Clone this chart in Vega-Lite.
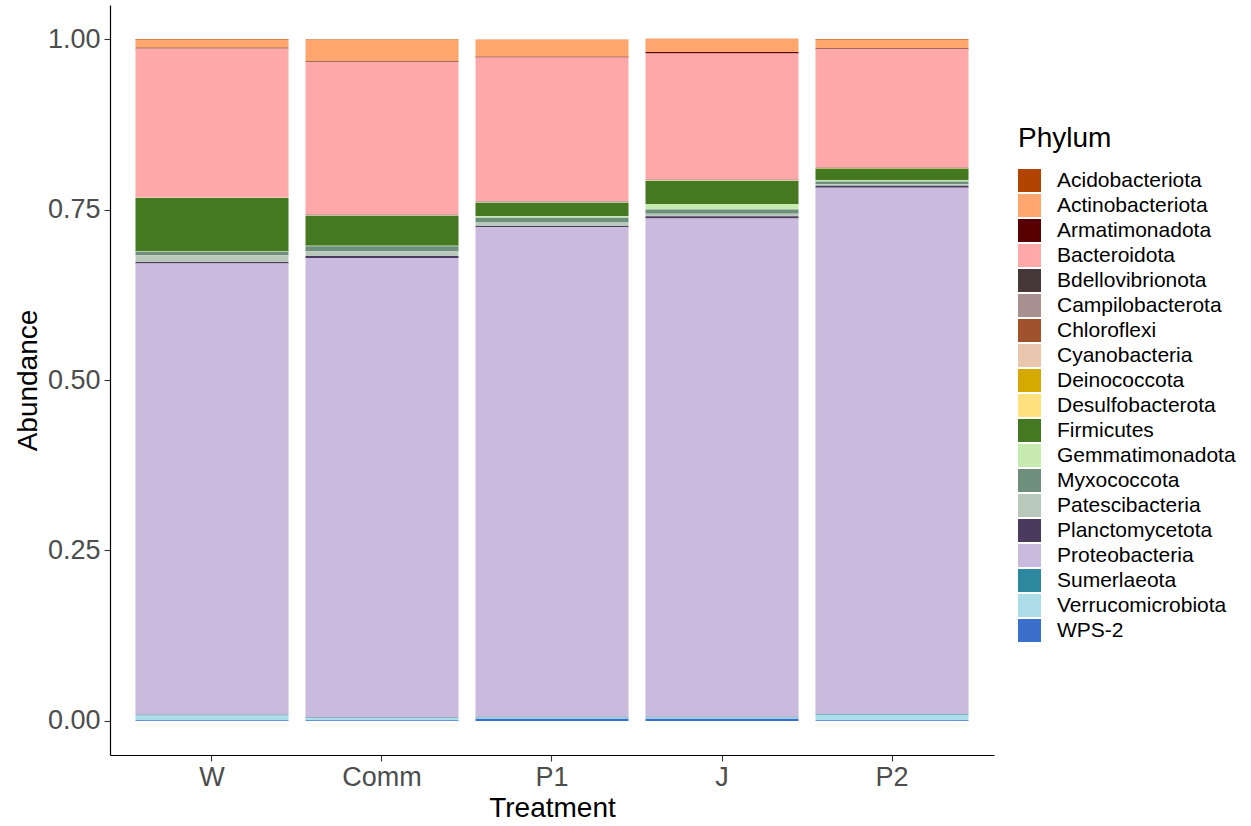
{
  "$schema": "https://vega.github.io/schema/vega-lite/v6.json",
  "autosize": "none",
  "width": 884,
  "height": 750,
  "padding": {"left": 110, "top": 5, "right": 257, "bottom": 71},
  "background": "white",
  "config": {
    "font": "Liberation Sans",
    "view": {"stroke": null},
    "axis": {"grid": false, "domainColor": "black", "domainWidth": 1.2, "tickColor": "#333333", "tickSize": 6, "tickWidth": 1.1, "labelColor": "#4D4D4D", "labelFontSize": 27, "titleFontSize": 28, "titleFontWeight": "normal", "titleColor": "black"}
  },
  "data": {"values": [
    {"Treatment":"W","Phylum":"Acidobacteriota","Abundance":0.001},
    {"Treatment":"W","Phylum":"Actinobacteriota","Abundance":0.012},
    {"Treatment":"W","Phylum":"Armatimonadota","Abundance":0.001},
    {"Treatment":"W","Phylum":"Bacteroidota","Abundance":0.218},
    {"Treatment":"W","Phylum":"Bdellovibrionota","Abundance":0.0002},
    {"Treatment":"W","Phylum":"Campilobacterota","Abundance":0.0002},
    {"Treatment":"W","Phylum":"Chloroflexi","Abundance":0.0002},
    {"Treatment":"W","Phylum":"Cyanobacteria","Abundance":0.0002},
    {"Treatment":"W","Phylum":"Deinococcota","Abundance":0.0002},
    {"Treatment":"W","Phylum":"Desulfobacterota","Abundance":0.0002},
    {"Treatment":"W","Phylum":"Firmicutes","Abundance":0.078},
    {"Treatment":"W","Phylum":"Gemmatimonadota","Abundance":0.001},
    {"Treatment":"W","Phylum":"Myxococcota","Abundance":0.005},
    {"Treatment":"W","Phylum":"Patescibacteria","Abundance":0.010},
    {"Treatment":"W","Phylum":"Planctomycetota","Abundance":0.002},
    {"Treatment":"W","Phylum":"Proteobacteria","Abundance":0.662},
    {"Treatment":"W","Phylum":"Sumerlaeota","Abundance":0.001},
    {"Treatment":"W","Phylum":"Verrucomicrobiota","Abundance":0.007},
    {"Treatment":"W","Phylum":"WPS-2","Abundance":0.001},

    {"Treatment":"Comm","Phylum":"Acidobacteriota","Abundance":0.0005},
    {"Treatment":"Comm","Phylum":"Actinobacteriota","Abundance":0.032},
    {"Treatment":"Comm","Phylum":"Armatimonadota","Abundance":0.001},
    {"Treatment":"Comm","Phylum":"Bacteroidota","Abundance":0.224},
    {"Treatment":"Comm","Phylum":"Bdellovibrionota","Abundance":0.0002},
    {"Treatment":"Comm","Phylum":"Campilobacterota","Abundance":0.0002},
    {"Treatment":"Comm","Phylum":"Chloroflexi","Abundance":0.0002},
    {"Treatment":"Comm","Phylum":"Cyanobacteria","Abundance":0.0002},
    {"Treatment":"Comm","Phylum":"Deinococcota","Abundance":0.0002},
    {"Treatment":"Comm","Phylum":"Desulfobacterota","Abundance":0.0002},
    {"Treatment":"Comm","Phylum":"Firmicutes","Abundance":0.044},
    {"Treatment":"Comm","Phylum":"Gemmatimonadota","Abundance":0.001},
    {"Treatment":"Comm","Phylum":"Myxococcota","Abundance":0.007},
    {"Treatment":"Comm","Phylum":"Patescibacteria","Abundance":0.007},
    {"Treatment":"Comm","Phylum":"Planctomycetota","Abundance":0.003},
    {"Treatment":"Comm","Phylum":"Proteobacteria","Abundance":0.674},
    {"Treatment":"Comm","Phylum":"Sumerlaeota","Abundance":0.001},
    {"Treatment":"Comm","Phylum":"Verrucomicrobiota","Abundance":0.003},
    {"Treatment":"Comm","Phylum":"WPS-2","Abundance":0.001},

    {"Treatment":"P1","Phylum":"Acidobacteriota","Abundance":0.0005},
    {"Treatment":"P1","Phylum":"Actinobacteriota","Abundance":0.025},
    {"Treatment":"P1","Phylum":"Armatimonadota","Abundance":0.001},
    {"Treatment":"P1","Phylum":"Bacteroidota","Abundance":0.211},
    {"Treatment":"P1","Phylum":"Bdellovibrionota","Abundance":0.0002},
    {"Treatment":"P1","Phylum":"Campilobacterota","Abundance":0.001},
    {"Treatment":"P1","Phylum":"Chloroflexi","Abundance":0.0002},
    {"Treatment":"P1","Phylum":"Cyanobacteria","Abundance":0.0002},
    {"Treatment":"P1","Phylum":"Deinococcota","Abundance":0.0002},
    {"Treatment":"P1","Phylum":"Desulfobacterota","Abundance":0.0002},
    {"Treatment":"P1","Phylum":"Firmicutes","Abundance":0.020},
    {"Treatment":"P1","Phylum":"Gemmatimonadota","Abundance":0.002},
    {"Treatment":"P1","Phylum":"Myxococcota","Abundance":0.007},
    {"Treatment":"P1","Phylum":"Patescibacteria","Abundance":0.005},
    {"Treatment":"P1","Phylum":"Planctomycetota","Abundance":0.002},
    {"Treatment":"P1","Phylum":"Proteobacteria","Abundance":0.718},
    {"Treatment":"P1","Phylum":"Sumerlaeota","Abundance":0.001},
    {"Treatment":"P1","Phylum":"Verrucomicrobiota","Abundance":0.002},
    {"Treatment":"P1","Phylum":"WPS-2","Abundance":0.003},

    {"Treatment":"J","Phylum":"Acidobacteriota","Abundance":0.0005},
    {"Treatment":"J","Phylum":"Actinobacteriota","Abundance":0.019},
    {"Treatment":"J","Phylum":"Armatimonadota","Abundance":0.002},
    {"Treatment":"J","Phylum":"Bacteroidota","Abundance":0.185},
    {"Treatment":"J","Phylum":"Bdellovibrionota","Abundance":0.0002},
    {"Treatment":"J","Phylum":"Campilobacterota","Abundance":0.001},
    {"Treatment":"J","Phylum":"Chloroflexi","Abundance":0.0002},
    {"Treatment":"J","Phylum":"Cyanobacteria","Abundance":0.0002},
    {"Treatment":"J","Phylum":"Deinococcota","Abundance":0.0002},
    {"Treatment":"J","Phylum":"Desulfobacterota","Abundance":0.0002},
    {"Treatment":"J","Phylum":"Firmicutes","Abundance":0.034},
    {"Treatment":"J","Phylum":"Gemmatimonadota","Abundance":0.008},
    {"Treatment":"J","Phylum":"Myxococcota","Abundance":0.006},
    {"Treatment":"J","Phylum":"Patescibacteria","Abundance":0.004},
    {"Treatment":"J","Phylum":"Planctomycetota","Abundance":0.003},
    {"Treatment":"J","Phylum":"Proteobacteria","Abundance":0.731},
    {"Treatment":"J","Phylum":"Sumerlaeota","Abundance":0.001},
    {"Treatment":"J","Phylum":"Verrucomicrobiota","Abundance":0.002},
    {"Treatment":"J","Phylum":"WPS-2","Abundance":0.003},

    {"Treatment":"P2","Phylum":"Acidobacteriota","Abundance":0.001},
    {"Treatment":"P2","Phylum":"Actinobacteriota","Abundance":0.013},
    {"Treatment":"P2","Phylum":"Armatimonadota","Abundance":0.001},
    {"Treatment":"P2","Phylum":"Bacteroidota","Abundance":0.174},
    {"Treatment":"P2","Phylum":"Bdellovibrionota","Abundance":0.0002},
    {"Treatment":"P2","Phylum":"Campilobacterota","Abundance":0.0002},
    {"Treatment":"P2","Phylum":"Chloroflexi","Abundance":0.0002},
    {"Treatment":"P2","Phylum":"Cyanobacteria","Abundance":0.0002},
    {"Treatment":"P2","Phylum":"Deinococcota","Abundance":0.0002},
    {"Treatment":"P2","Phylum":"Desulfobacterota","Abundance":0.0002},
    {"Treatment":"P2","Phylum":"Firmicutes","Abundance":0.017},
    {"Treatment":"P2","Phylum":"Gemmatimonadota","Abundance":0.002},
    {"Treatment":"P2","Phylum":"Myxococcota","Abundance":0.004},
    {"Treatment":"P2","Phylum":"Patescibacteria","Abundance":0.002},
    {"Treatment":"P2","Phylum":"Planctomycetota","Abundance":0.003},
    {"Treatment":"P2","Phylum":"Proteobacteria","Abundance":0.772},
    {"Treatment":"P2","Phylum":"Sumerlaeota","Abundance":0.001},
    {"Treatment":"P2","Phylum":"Verrucomicrobiota","Abundance":0.008},
    {"Treatment":"P2","Phylum":"WPS-2","Abundance":0.001}
  ]},
  "mark": {"type": "bar"},
  "encoding": {
    "x": {
      "field": "Treatment", "type": "nominal",
      "sort": ["W", "Comm", "P1", "J", "P2"],
      "scale": {"paddingInner": 0.1, "paddingOuter": 0.15},
      "axis": {"labelAngle": 0, "title": "Treatment", "labelPadding": 3, "titlePadding": 4}
    },
    "y": {
      "field": "Abundance", "type": "quantitative", "aggregate": "sum", "stack": "zero",
      "scale": {"domain": [-0.05, 1.05], "nice": false, "zero": false},
      "axis": {"title": "Abundance", "values": [0, 0.25, 0.5, 0.75, 1], "format": ".2f", "labelPadding": 4, "titlePadding": 5}
    },
    "order": {"field": "Phylum", "sort": "descending"},
    "color": {
      "field": "Phylum", "type": "nominal",
      "scale": {
        "domain": ["Acidobacteriota","Actinobacteriota","Armatimonadota","Bacteroidota","Bdellovibrionota","Campilobacterota","Chloroflexi","Cyanobacteria","Deinococcota","Desulfobacterota","Firmicutes","Gemmatimonadota","Myxococcota","Patescibacteria","Planctomycetota","Proteobacteria","Sumerlaeota","Verrucomicrobiota","WPS-2"],
        "range": ["#B04400","#FFA66E","#580000","#FFA8AA","#463838","#A89090","#A0522D","#EBC6AF","#D4A900","#FFE27D","#447821","#C7EAB0","#6E8F7B","#B8C9BC","#4A3B5E","#C9BADE","#2C889E","#ADDDE9","#3A70CC"]
      },
      "legend": {
        "orient": "none", "legendX": 908, "legendY": 120,
        "title": "Phylum", "titleFontSize": 28, "titleFontWeight": "normal", "titleColor": "black", "titlePadding": 16,
        "labelFontSize": 21, "labelColor": "black", "symbolType": "square", "symbolSize": 529,
        "symbolStrokeWidth": 0, "rowPadding": 2, "labelOffset": 16, "padding": 0, "labelLimit": 300
      }
    }
  }
}
